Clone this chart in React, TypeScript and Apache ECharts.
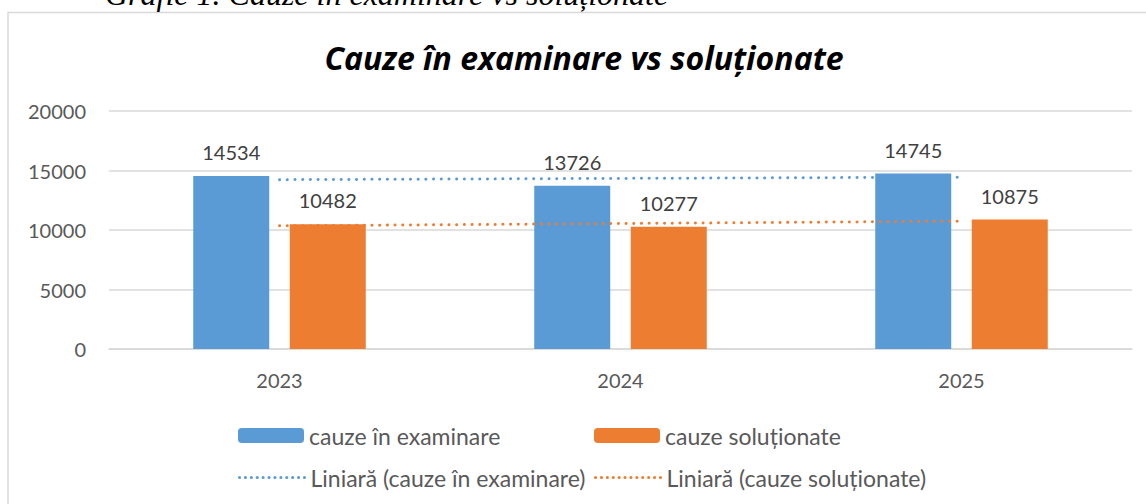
import React, { useEffect, useRef } from "react";
import * as echarts from "echarts";

const categories = ["2023", "2024", "2025"];
const examinare = [14534, 13726, 14745];
const solutionate = [10482, 10277, 10875];
const yTicks = [0, 5000, 10000, 15000, 20000];

const seriesNames = ["cauze în examinare", "cauze soluționate"];
const trendNames = ["Liniară (cauze în examinare)", "Liniară (cauze soluționate)"];

const BLUE = "#5B9BD5";
const ORANGE = "#ED7D31";
const FONT = "Lato, 'Open Sans', sans-serif";

// Excel-style linear trendline (least squares) over the category index
function linearTrend(values: number[]): number[] {
  const n = values.length;
  const xs = values.map((_, i) => i + 1);
  const mx = xs.reduce((a, b) => a + b, 0) / n;
  const my = values.reduce((a, b) => a + b, 0) / n;
  let num = 0;
  let den = 0;
  for (let i = 0; i < n; i++) {
    num += (xs[i] - mx) * (values[i] - my);
    den += (xs[i] - mx) * (xs[i] - mx);
  }
  const slope = num / den;
  const intercept = my - slope * mx;
  return xs.map((x) => Math.round((intercept + slope * x) * 10) / 10);
}

export default function App() {
  const ref = useRef<HTMLDivElement>(null);

  useEffect(() => {
    if (!ref.current) return;
    const chart = echarts.init(ref.current, undefined, { renderer: "svg" });
    const dotted = { type: [0.1, 7.6] as any, width: 3, cap: "round" as any };
    const legendDotted = { type: [0.1, 5.8] as any, width: 3, cap: "round" as any };
    const legendText = { fontFamily: FONT, fontSize: 23, color: "#595959" };
    const legendBase = {
      itemWidth: 66,
      itemHeight: 15,
      itemGap: 0,
      padding: 0,
      textStyle: legendText,
    };
    chart.setOption({
      animation: false,
      backgroundColor: "#ffffff",
      graphic: [
        {
          type: "rect",
          shape: { x: 8, y: 12.5, width: 1160, height: 520 },
          style: { fill: "none", stroke: "#D9D9D9", lineWidth: 1.5 },
          silent: true,
        },
        {
          type: "text",
          x: 105,
          y: -22,
          style: {
            text: "Grafic 1. Cauze în examinare vs soluționate",
            fontFamily: "'Liberation Serif', 'Times New Roman', serif",
            fontStyle: "italic",
            fontSize: 32,
            fill: "#000000",
          },
          silent: true,
        },
      ],
      title: {
        text: "Cauze în examinare vs soluționate",
        left: 579,
        textAlign: "center",
        top: 36,
        textStyle: {
          fontFamily: "'Open Sans', sans-serif",
          fontSize: 32,
          fontWeight: "bold",
          fontStyle: "italic",
          color: "#000000",
        },
      },
      legend: [
        { ...legendBase, data: [seriesNames[0]], left: 238, top: 424 },
        { ...legendBase, data: [seriesNames[1]], left: 594, top: 424 },
        {
          ...legendBase,
          data: [
            { name: trendNames[0], itemStyle: { opacity: 0 }, lineStyle: { color: BLUE, ...legendDotted } },
          ],
          left: 238,
          top: 466,
        },
        {
          ...legendBase,
          data: [
            { name: trendNames[1], itemStyle: { opacity: 0 }, lineStyle: { color: ORANGE, ...legendDotted } },
          ],
          left: 594,
          top: 466,
        },
      ],
      grid: { left: 109, right: 14, top: 111, bottom: 155, containLabel: false },
      xAxis: {
        type: "category",
        data: categories,
        axisLine: { lineStyle: { color: "#D9D9D9", width: 1.5 } },
        axisTick: { show: false },
        axisLabel: { fontFamily: FONT, fontSize: 20, color: "#595959", margin: 21 },
      },
      yAxis: {
        type: "value",
        min: yTicks[0],
        max: yTicks[yTicks.length - 1],
        interval: yTicks[1] - yTicks[0],
        axisLine: { show: false },
        axisTick: { show: false },
        splitLine: { lineStyle: { color: "#D9D9D9", width: 1.5 } },
        axisLabel: {
          fontFamily: FONT,
          fontSize: 20,
          color: "#595959",
          margin: 23,
          formatter: (v: number) => String(v),
        },
      },
      series: [
        {
          name: seriesNames[0],
          type: "bar",
          data: examinare,
          barWidth: 76,
          barGap: "27%",
          itemStyle: { color: BLUE },
          label: {
            show: true,
            position: "top",
            distance: 14,
            fontFamily: FONT,
            fontSize: 20,
            color: "#404040",
          },
        },
        {
          name: seriesNames[1],
          type: "bar",
          data: solutionate,
          barWidth: 76,
          barGap: "27%",
          itemStyle: { color: ORANGE },
          label: {
            show: true,
            position: "top",
            distance: 14,
            fontFamily: FONT,
            fontSize: 20,
            color: "#404040",
          },
        },
        {
          name: trendNames[0],
          type: "line",
          data: linearTrend(examinare),
          symbol: "none",
          itemStyle: { color: BLUE },
          lineStyle: { color: BLUE, ...dotted },
          z: 5,
        },
        {
          name: trendNames[1],
          type: "line",
          data: linearTrend(solutionate),
          symbol: "none",
          itemStyle: { color: ORANGE },
          lineStyle: { color: ORANGE, ...dotted },
          z: 5,
        },
      ],
    });
    return () => chart.dispose();
  }, []);

  return (
    <div
      ref={ref}
      style={{ position: "absolute", left: 0, top: 0, width: 1146, height: 504 }}
    />
  );
}
